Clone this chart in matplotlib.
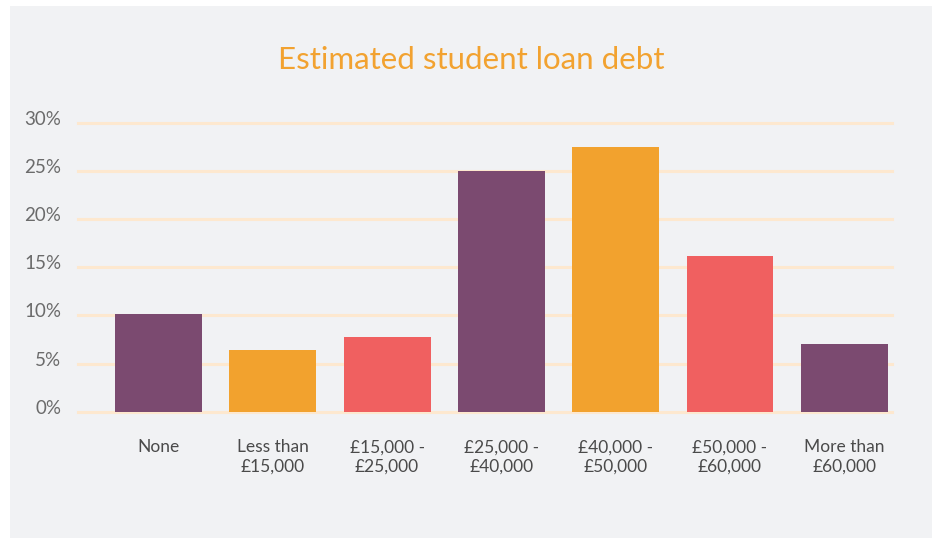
import numpy as np
import matplotlib
matplotlib.use("Agg")
import matplotlib.pyplot as plt
from matplotlib.patches import Rectangle
from matplotlib.transforms import ScaledTranslation

categories = ["None", "Less than\n£15,000", "£15,000 -\n£25,000", "£25,000 -\n£40,000",
              "£40,000 -\n£50,000", "£50,000 -\n£60,000", "More than\n£60,000"]
shares = [10.1, 6.4, 7.8, 25.0, 27.5, 16.2, 7.0]
bar_colors = ["#7b4a70", "#f2a22e", "#f06060", "#7b4a70", "#f2a22e", "#f06060", "#7b4a70"]
y_ticks = [0, 5, 10, 15, 20, 25, 30]

plt.rcParams["font.family"] = ["Lato", "DejaVu Sans"]

W, H = 939, 538
fig = plt.figure(figsize=(W / 100, H / 100), dpi=100)
fig.patch.set_facecolor("white")

# grey card behind the chart
fig.patches.append(Rectangle((10 / W, 0), 922 / W, 1 - 6 / H, transform=fig.transFigure,
                             facecolor="#f1f2f4", edgecolor="none", zorder=-1))

ax = fig.add_axes([78 / W, 1 - 411.7 / H, (892 - 78) / W, (411.7 - 122.7) / H])
ax.set_facecolor("none")

x = np.arange(len(categories))
ax.bar(x, shares, width=0.76, color=bar_colors, zorder=3)

ax.set_xlim(-0.704, 6.417)
ax.set_ylim(0, 30)
ax.set_yticks(y_ticks)
ax.set_yticklabels([f"{t}%" for t in y_ticks])
ax.set_xticks(x)
ax.set_xticklabels(categories, linespacing=1.25)

ax.yaxis.grid(True, color="#fde8cf", linewidth=2.2, zorder=1)
for gl in ax.get_ygridlines():
    gl.set_clip_on(False)
ax.set_axisbelow(True)

for s in ax.spines.values():
    s.set_visible(False)
ax.tick_params(axis="both", length=0)
ax.tick_params(axis="y", pad=12, labelsize=13.5, labelcolor="#6b6b6b")
ax.tick_params(axis="x", pad=20, labelsize=12.5, labelcolor="#4a4a4a")

# y labels sit on their gridline rather than centred on it
shift = ScaledTranslation(0, -1.5 / 72, fig.dpi_scale_trans)
for lbl in ax.get_yticklabels():
    lbl.set_va("baseline")
    lbl.set_transform(lbl.get_transform() + shift)

fig.text(471 / W, 1 - 60 / H, "Estimated student loan debt", ha="center", va="center",
         fontsize=22.5, color="#f2a230")

fig.savefig("out.png", dpi=100, facecolor=fig.get_facecolor())
